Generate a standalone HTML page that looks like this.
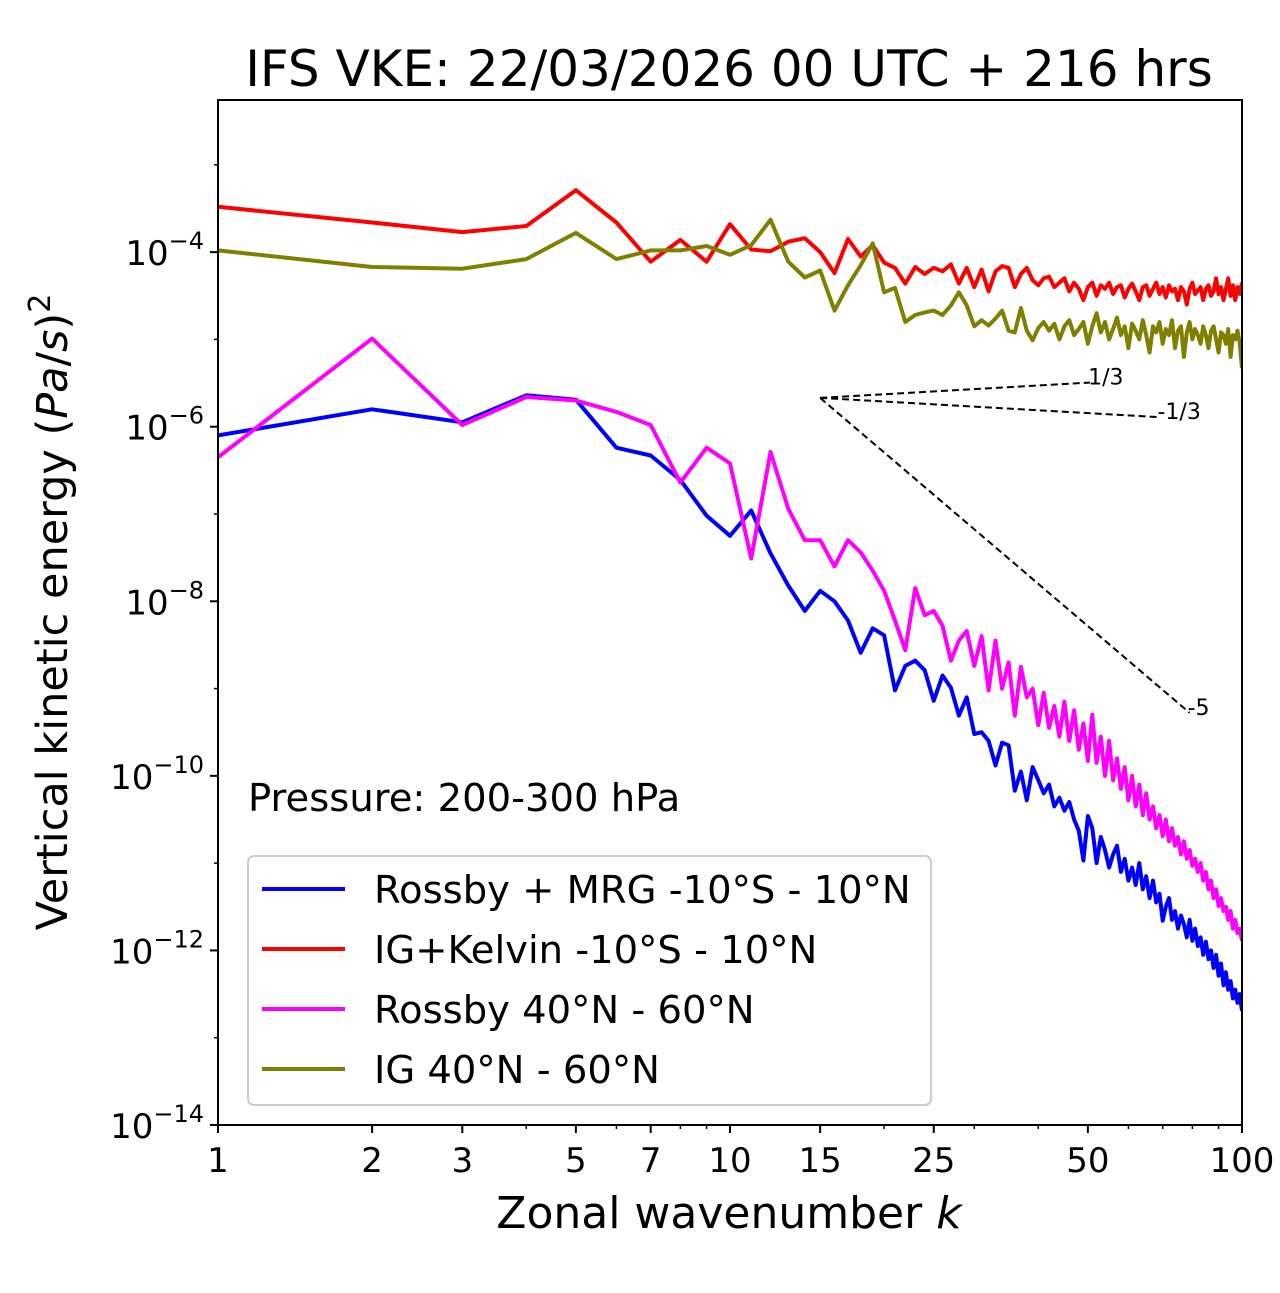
<!DOCTYPE html>
<html><head><meta charset="utf-8"><style>
body{margin:0;background:#fff;}
svg text{font-family:"DejaVu Sans","Liberation Sans",sans-serif;}
</style></head><body>
<svg id="chart" width="1280" height="1288" xmlns="http://www.w3.org/2000/svg"></svg>
<script>
const kMin=1,kMax=100,eMin=-14,eMax=-2.257;
const blueExp=[-6.10,-5.80,-5.95,-5.64,-5.69,-6.24,-6.33,-6.61,-7.02,-7.25,-6.96,-7.45,-7.82,-8.11,-7.88,-8.0,-8.22,-8.59,-8.31,-8.39,-9.02,-8.74,-8.68,-8.79,-9.14,-8.85,-8.99,-9.31,-9.10,-9.52,-9.50,-9.60,-9.88,-9.62,-9.65,-10.17,-9.95,-10.28,-9.90,-10.05,-10.20,-10.10,-10.35,-10.25,-10.40,-10.30,-10.50,-10.63,-10.97,-10.46,-10.60,-11.00,-10.70,-10.85,-11.05,-10.90,-10.80,-11.10,-10.95,-11.20,-11.05,-11.25,-11.00,-11.30,-11.15,-11.40,-11.20,-11.45,-11.35,-11.66,-11.50,-11.40,-11.65,-11.55,-11.75,-11.60,-11.70,-11.85,-11.65,-11.89,-11.75,-11.95,-11.85,-12.05,-11.90,-12.10,-12.00,-12.20,-12.05,-12.29,-12.15,-12.40,-12.25,-12.45,-12.35,-12.55,-12.45,-12.60,-12.50,-12.69];
const redExp=[-3.48,-3.66,-3.77,-3.70,-3.29,-3.66,-4.11,-3.86,-4.11,-3.68,-3.97,-3.99,-3.88,-3.84,-4.00,-4.24,-3.85,-4.05,-3.92,-4.12,-4.18,-4.36,-4.17,-4.25,-4.18,-4.22,-4.14,-4.36,-4.18,-4.40,-4.20,-4.45,-4.22,-4.16,-4.18,-4.40,-4.25,-4.18,-4.32,-4.38,-4.30,-4.28,-4.40,-4.35,-4.30,-4.45,-4.35,-4.42,-4.55,-4.40,-4.35,-4.50,-4.38,-4.42,-4.35,-4.48,-4.40,-4.38,-4.52,-4.42,-4.36,-4.45,-4.55,-4.40,-4.38,-4.50,-4.42,-4.35,-4.48,-4.40,-4.52,-4.38,-4.45,-4.42,-4.55,-4.40,-4.45,-4.60,-4.42,-4.35,-4.48,-4.44,-4.40,-4.55,-4.42,-4.38,-4.50,-4.45,-4.30,-4.48,-4.40,-4.55,-4.42,-4.30,-4.50,-4.38,-4.55,-4.40,-4.48,-4.35];
const magentaExp=[-6.35,-4.99,-5.98,-5.66,-5.70,-5.83,-5.98,-6.64,-6.24,-6.42,-7.51,-6.29,-6.94,-7.30,-7.30,-7.60,-7.30,-7.44,-7.65,-7.88,-8.22,-8.56,-7.85,-8.16,-8.11,-8.28,-8.68,-8.45,-8.34,-8.74,-8.40,-9.02,-8.45,-9.00,-8.70,-9.31,-8.75,-9.10,-9.00,-9.42,-9.05,-9.45,-9.20,-9.55,-9.15,-9.60,-9.25,-9.70,-9.40,-9.83,-9.30,-9.85,-9.55,-10.00,-9.60,-10.05,-9.80,-10.15,-9.90,-10.28,-10.00,-10.35,-10.10,-10.45,-10.20,-10.50,-10.35,-10.60,-10.45,-10.69,-10.50,-10.75,-10.60,-10.80,-10.70,-10.90,-10.75,-10.95,-10.85,-11.03,-10.95,-11.10,-11.00,-11.20,-11.10,-11.30,-11.20,-11.40,-11.30,-11.49,-11.40,-11.55,-11.50,-11.65,-11.55,-11.75,-11.65,-11.80,-11.75,-11.89];
const oliveExp=[-3.98,-4.17,-4.19,-4.08,-3.78,-4.08,-3.98,-3.98,-3.93,-4.03,-3.92,-3.63,-4.11,-4.29,-4.21,-4.67,-4.38,-4.15,-3.90,-4.46,-4.41,-4.80,-4.72,-4.69,-4.67,-4.72,-4.61,-4.46,-4.61,-4.85,-4.78,-4.84,-4.76,-4.67,-4.90,-4.92,-4.64,-4.90,-5.01,-4.87,-4.80,-4.90,-4.82,-5.00,-4.85,-4.78,-4.95,-4.88,-4.80,-5.05,-4.85,-4.70,-4.92,-4.80,-5.00,-4.88,-4.75,-4.95,-4.85,-5.10,-4.82,-4.90,-5.00,-4.78,-4.95,-5.15,-4.85,-4.92,-4.80,-5.05,-4.88,-4.95,-4.78,-5.10,-4.90,-4.85,-5.20,-4.92,-4.80,-5.00,-4.88,-4.95,-5.05,-4.85,-4.95,-5.10,-4.90,-4.85,-5.00,-5.15,-4.92,-4.95,-5.05,-4.88,-5.20,-4.95,-5.00,-4.90,-5.05,-5.33];
const xTickVals=[1,2,3,5,7,10,15,25,50,100];
const xMinorVals=[4,6,8,9,20,30,40,60,70,80,90];
const yTickExps=[-14,-12,-10,-8,-6,-4];
const yMinorExps=[-13,-11,-9,-7,-5,-3];
const refSlopes=[1/3,-1/3,-5];
const refLabels=["1/3","-1/3","-5"];
const refEnd=[50.5,69,79];
const refStartK=15,refStartE=-5.67;

const L=218,R=1242,T=100,B=1125;
const X=k=>L+(Math.log10(k)-Math.log10(kMin))/(Math.log10(kMax)-Math.log10(kMin))*(R-L);
const Y=e=>B-(e-eMin)/(eMax-eMin)*(B-T);
const svg=document.getElementById('chart');
const NS="http://www.w3.org/2000/svg";
function mk(tag,attrs,parent){const el=document.createElementNS(NS,tag);for(const a in attrs)el.setAttribute(a,attrs[a]);(parent||svg).appendChild(el);return el;}

const title=mk('text',{x:729,y:86,'font-size':50,'text-anchor':'middle'});


title.textContent='IFS VKE: 22/03/2026 00 UTC + 216 hrs';

const series=[[blueExp,'#0000ff','series-rossby-mrg'],[redExp,'#ff0000','series-ig-kelvin'],[magentaExp,'#ff00ff','series-rossby-midlat'],[oliveExp,'#808000','series-ig-midlat']];
const clip=mk('clipPath',{id:'cp'});mk('rect',{x:L,y:T,width:R-L,height:B-T},clip);
series.forEach(s=>{
  const pts=s[0].map((e,i)=>X(i+1).toFixed(1)+','+Y(e).toFixed(1)).join(' ');
  const pl=mk('polyline',{points:pts,fill:'none',stroke:s[1],'stroke-width':4,'stroke-linejoin':'round','clip-path':'url(#cp)'});
  
  
});
refSlopes.forEach((sl,i)=>{
  const ke=refEnd[i];const e2=refStartE+sl*Math.log10(ke/refStartK);
  const ln=mk('line',{x1:X(refStartK),y1:Y(refStartE),x2:X(ke),y2:Y(e2),stroke:'#000','stroke-width':2,'stroke-dasharray':'7,4'});
  
  
  const t=mk('text',{x:X(ke)-2,y:Y(e2)+2,'font-size':22});
  
  
  t.textContent=refLabels[i];
});
const frame=mk('rect',{x:L,y:T,width:R-L,height:B-T,fill:'none',stroke:'#000','stroke-width':2});



xTickVals.forEach(k=>{
  mk('line',{x1:X(k),y1:B,x2:X(k),y2:B+8,stroke:'#000','stroke-width':2});
  const t=mk('text',{x:X(k),y:B+47,'font-size':34,'text-anchor':'middle'});
  
  
  t.textContent=k;
});
xMinorVals.forEach(k=>mk('line',{x1:X(k),y1:B,x2:X(k),y2:B+4,stroke:'#000','stroke-width':1.5}));
yTickExps.forEach(e=>{
  mk('line',{x1:L-8,y1:Y(e),x2:L,y2:Y(e),stroke:'#000','stroke-width':2});
  const t=mk('text',{x:L-14,y:Y(e)+13,'font-size':34,'text-anchor':'end'});
  
  
  t.innerHTML='10<tspan dy="-16" font-size="24">−'+Math.abs(e)+'</tspan>';
});
yMinorExps.forEach(e=>{if(Y(e)>T)mk('line',{x1:L-4,y1:Y(e),x2:L,y2:Y(e),stroke:'#000','stroke-width':1.5});});

const xl=mk('text',{x:729,y:1228,'font-size':44,'text-anchor':'middle'});


xl.innerHTML='Zonal wavenumber <tspan font-style="italic">k</tspan>';
const yl=mk('text',{x:0,y:0,'font-size':43,'text-anchor':'middle',transform:'translate(67,612) rotate(-90)'});


yl.innerHTML='Vertical kinetic energy (<tspan font-style="italic">Pa</tspan>/<tspan font-style="italic">s</tspan>)<tspan dy="-17" font-size="30">2</tspan>';

const pr=mk('text',{x:248,y:811,'font-size':38.5});


pr.textContent='Pressure: 200-300 hPa';

const lg=mk('g',{});


mk('rect',{x:248,y:856,width:683,height:249,rx:6,fill:'#fff',stroke:'#ccc','stroke-width':2},lg);
const legTexts=['Rossby + MRG -10°S - 10°N','IG+Kelvin -10°S - 10°N','Rossby 40°N - 60°N','IG 40°N - 60°N'];
legTexts.forEach((txt,i)=>{
  const y=889+i*60;
  const g=mk('g',{},lg);
  
  
  mk('line',{x1:262,y1:y,x2:345,y2:y,stroke:series[i][1],'stroke-width':4},g);
  const t=mk('text',{x:374,y:y+14,'font-size':38.5},g);
  t.textContent=txt;
});
</script>
</body></html>
